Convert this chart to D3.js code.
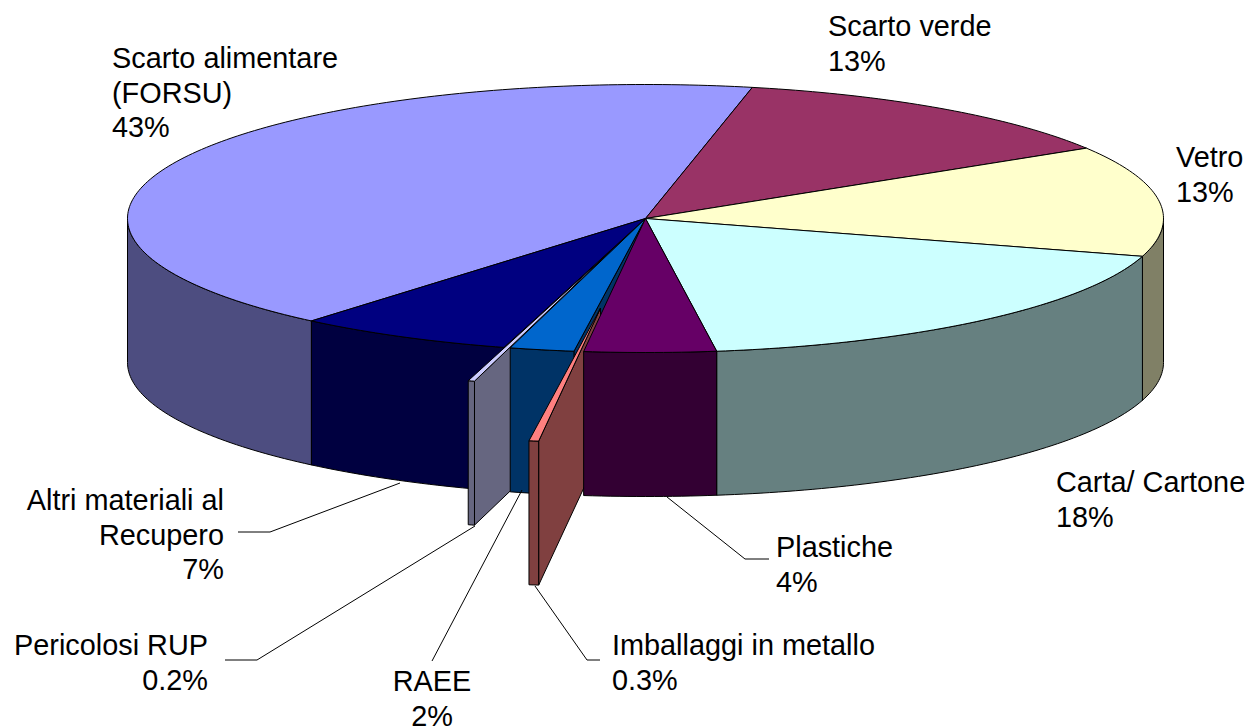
<!DOCTYPE html>
<html><head><meta charset="utf-8">
<script src="https://cdn.jsdelivr.net/npm/d3@7"></script>
<style>html,body{margin:0;padding:0;background:#fff}svg{display:block}text{font-family:"Liberation Sans",Arial,sans-serif;font-size:28.85px;fill:#000}</style>
</head><body><svg id="c" width="1250" height="726"></svg>
<script>
// Data (clockwise from the slice after "Scarto alimentare")
const categories = ["Scarto verde","Vetro","Carta/ Cartone","Plastiche","Imballaggi in metallo","RAEE","Pericolosi RUP","Altri materiali al Recupero","Scarto alimentare (FORSU)"];
const values = [12.9,13.35,18.25,4.1,0.3,2.0,0.2,6.75,42.15];
const valueLabels = ["13%","13%","18%","4%","0.3%","2%","0.2%","7%","43%"];
const labelLines = [["Scarto verde"],["Vetro"],["Carta/ Cartone"],["Plastiche"],["Imballaggi in metallo"],["RAEE"],["Pericolosi RUP"],["Altri materiali al","Recupero"],["Scarto alimentare","(FORSU)"]];
const topColors = ["#993366","#FFFFCC","#CCFFFF","#660066","#FF8080","#0066CC","#CCCCFF","#000080","#9999FF"];
const explosion = [0,0,0,0,0.674,0,0.258,0,0];
const paintOrder = [8,0,1,2,7,6,5,4,3];

// Layout
const cx=645.5, cy=218.5, rx=518, ry=134, depth=144, startDeg=11.9;
const labelLayout = [
 {x:828,y:36,a:"start"},{x:1176,y:167,a:"start"},{x:1056,y:492,a:"start"},{x:776,y:557,a:"start"},
 {x:612,y:655,a:"start"},{x:432,y:691,a:"middle"},{x:208,y:655,a:"end"},{x:224,y:510,a:"end"},{x:112,y:68,a:"start"}];
const leaderLayout = [null,null,null,
 [[667,497],[745,559],[769,559]],
 [[535,586],[587,660],[600,660]],
 [[522,490],[432,661]],
 [[475,526],[257,660],[225,660]],
 [[400,483],[270,532],[238,532]],
 null];

const svg=d3.select("#c");
const rad=Math.PI/180;
const pie=d3.pie().sort(null).startAngle(startDeg*rad).endAngle((startDeg+360)*rad);
const arcs=pie(values);
const line=d3.line();
// plan-view angle (clockwise from top) to screen, with radial scale
const sx=d3.scaleLinear().domain([-1,1]).range([cx-rx,cx+rx]);
const sy=d3.scaleLinear().domain([-1,1]).range([cy-ry,cy+ry]);
const pt=(a,r,off)=>[sx(r*Math.sin(a)+off[0]),sy(-r*Math.cos(a)+off[1])];
const drop=p=>[p[0],p[1]+depth];
const arcPts=(a0,a1,off)=>{const n=Math.max(2,Math.ceil((a1-a0)/rad));return d3.range(n+1).map(i=>pt(a0+(a1-a0)*i/n,1,off));};
const poly=(g,pts,fill)=>g.append("path").attr("d",line(pts)+"Z").attr("fill",fill).attr("stroke","#000").attr("stroke-width",1).attr("stroke-linejoin","round");
const dark=c=>{const k=d3.rgb(c);return d3.rgb(k.r/2,k.g/2,k.b/2).formatHex();};

const pieG=svg.append("g");
paintOrder.forEach(i=>{
  const d=arcs[i],a0=d.startAngle,a1=d.endAngle,mid=(a0+a1)/2,e=explosion[i];
  const off=[e*Math.sin(mid),-e*Math.cos(mid)];
  const wall=dark(topColors[i]);
  const apex=pt(0,0,off);
  const g=pieG.append("g").attr("class","slice").attr("data-name",categories[i]);
  // radial faces
  const norm=a=>((a%(2*Math.PI))+2*Math.PI)%(2*Math.PI);
  if(norm(a1)<Math.PI){const o=pt(a1,1,off);poly(g,[apex,o,drop(o),drop(apex)],wall);}
  if(norm(a0)>Math.PI){const o=pt(a0,1,off);poly(g,[apex,o,drop(o),drop(apex)],wall);}
  // outer wall, front half only
  const w0=Math.max(a0,90*rad),w1=Math.min(a1,270*rad);
  if(w1>w0){const t=arcPts(w0,w1,off);poly(g,t.concat(t.map(drop).reverse()),wall);}
  // top face
  poly(g,[apex].concat(arcPts(a0,a1,off)),topColors[i]);
});

const leaders=svg.append("g");
leaderLayout.forEach(p=>{if(p)leaders.append("path").attr("d",line(p)).attr("fill","none").attr("stroke","#000").attr("stroke-width",1);});

const labels=svg.append("g");
labelLayout.forEach((l,i)=>{
  const lines=labelLines[i].concat([valueLabels[i]]);
  const t=labels.append("text").attr("text-anchor",l.a);
  lines.forEach((s,j)=>t.append("tspan").attr("x",l.x).attr("y",l.y+j*34.5).text(s));
});
</script></body></html>
